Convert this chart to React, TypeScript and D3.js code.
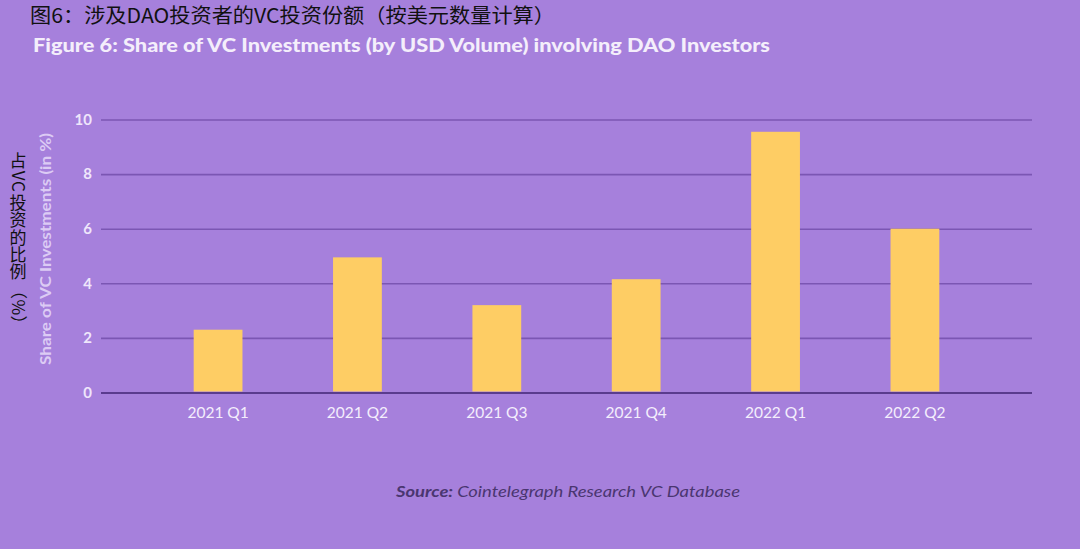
import { useEffect, useRef } from 'react';
import * as d3 from 'd3';

// quarters on the x axis
const quarters = ['2021 Q1', '2021 Q2', '2021 Q3', '2021 Q4', '2022 Q1', '2022 Q2'];
// share of VC investments (in %)
const shares = [2.3, 4.95, 3.2, 4.15, 9.55, 6.0];
const yTicks = [0, 2, 4, 6, 8, 10];

// vertical chinese label, split into runs: upright CJK or sideways latin
const cnAxisPieces = [
  { t: '占', rot: false },
  { t: 'VC', rot: true },
  { t: '投资的比例', rot: false },
  { t: '（%）', rot: true },
];

const W = 1080;
const H = 549;

export default function App() {
  const svgRef = useRef<SVGSVGElement>(null);

  useEffect(() => {
    if (!svgRef.current) return;
    const svg = d3.select(svgRef.current);
    svg.selectAll('*').remove();

    const bg = '#a680dc';
    const font = 'Lato, "Noto Sans", sans-serif';
    const cjk = '"Noto Sans CJK SC", sans-serif';

    svg.append('rect').attr('width', W).attr('height', H).attr('fill', bg);

    // plot box
    const left = 101, right = 1032, top = 119.5, bottom = 392.5;

    const x = d3.scaleBand<string>()
      .domain(quarters)
      .range([left, right])
      .paddingInner(0.65)
      .paddingOuter(0.665);

    const y = d3.scaleLinear().domain([0, 10]).range([bottom, top]);

    // grid + y labels
    const yAxis = svg.append('g')
      .attr('transform', `translate(${left},0)`)
      .call(d3.axisLeft(y).tickValues(yTicks).tickSize(-(right - left)).tickPadding(9));
    yAxis.select('.domain').remove();
    yAxis.selectAll('.tick line')
      .attr('stroke', (d: any) => (d === 0 ? '#5a3b8e' : '#7b56b3'))
      .attr('stroke-width', (d: any) => (d === 0 ? 2 : 1.6));
    yAxis.selectAll('.tick text')
      .attr('fill', '#efe6fb')
      .style('font-family', font)
      .style('font-weight', 700)
      .style('font-size', '15px');

    // bars
    svg.append('g')
      .selectAll('rect')
      .data(quarters)
      .join('rect')
      .attr('x', d => x(d) || 0)
      .attr('width', x.bandwidth())
      .attr('y', (d, i) => y(shares[i]))
      .attr('height', (d, i) => y(0) - y(shares[i]) - 1)
      .attr('fill', '#fecd64');

    // x labels
    const xAxis = svg.append('g')
      .attr('transform', `translate(0,${bottom})`)
      .call(d3.axisBottom(x).tickSize(0).tickPadding(14));
    xAxis.select('.domain').remove();
    xAxis.selectAll('.tick text')
      .attr('fill', '#f4eefc')
      .style('font-family', font)
      .style('font-size', '15.5px');

    // y axis title
    svg.append('text')
      .attr('transform', `translate(51,${(133 + 365) / 2}) rotate(-90)`)
      .attr('text-anchor', 'middle')
      .attr('fill', '#dccbf4')
      .style('font-family', font)
      .style('font-weight', 700)
      .style('font-size', '15px')
      .attr('textLength', 232)
      .attr('lengthAdjust', 'spacingAndGlyphs')
      .text('Share of VC Investments (in %)');

    // chinese vertical label: one text element, every glyph placed on its own,
    // han characters upright, latin and brackets turned 90deg
    const fs = 17;
    const cx = 18;
    const meas = svg.append('text')
      .style('font-family', cjk)
      .style('font-size', `${fs}px`)
      .attr('opacity', 0);
    const widthOf = (ch: string) => {
      meas.text(ch);
      return (meas.node() as SVGTextElement).getComputedTextLength();
    };
    const xs: number[] = [];
    const ys: number[] = [];
    const rots: number[] = [];
    let chars = '';
    let cy = 152;
    cnAxisPieces.forEach((p, pi) => {
      if (pi > 0) cy += 1.5;
      Array.from(p.t).forEach(ch => {
        const w = widthOf(ch);
        if (p.rot) {
          xs.push(cx - 0.36 * fs);
          ys.push(cy);
          rots.push(90);
        } else {
          xs.push(cx - w / 2);
          ys.push(cy + 0.88 * fs);
          rots.push(0);
        }
        chars += ch;
        cy += w + (p.rot ? 0.5 : 0.3);
      });
    });
    meas.remove();
    svg.append('text')
      .attr('x', xs.join(' '))
      .attr('y', ys.join(' '))
      .attr('rotate', rots.join(' '))
      .attr('fill', '#111')
      .style('font-family', cjk)
      .style('font-size', `${fs}px`)
      .text(chars);

    // titles
    svg.append('text')
      .attr('x', 30)
      .attr('y', 23)
      .attr('fill', '#111')
      .style('font-family', cjk)
      .style('font-size', '20px')
      .attr('textLength', 525)
      .attr('lengthAdjust', 'spacingAndGlyphs')
      .text('图6：涉及DAO投资者的VC投资份额（按美元数量计算）');

    svg.append('text')
      .attr('x', 33)
      .attr('y', 52)
      .attr('fill', '#f4eefb')
      .style('font-family', font)
      .style('font-weight', 900)
      .style('font-size', '19px')
      .attr('textLength', 737)
      .attr('lengthAdjust', 'spacingAndGlyphs')
      .text('Figure 6: Share of VC Investments (by USD Volume) involving DAO Investors');

    // source
    const src = svg.append('text')
      .attr('x', 396)
      .attr('y', 497)
      .attr('fill', '#4a3670')
      .style('font-family', font)
      .style('font-style', 'italic')
      .style('font-size', '15px')
      .attr('textLength', 344)
      .attr('lengthAdjust', 'spacingAndGlyphs');
    src.append('tspan').style('font-weight', 700).text('Source: ');
    src.append('tspan').text('Cointelegraph Research VC Database');
  }, []);

  return (
    <svg
      ref={svgRef}
      width={W}
      height={H}
      style={{ position: 'absolute', left: 0, top: 0, display: 'block' }}
    />
  );
}
